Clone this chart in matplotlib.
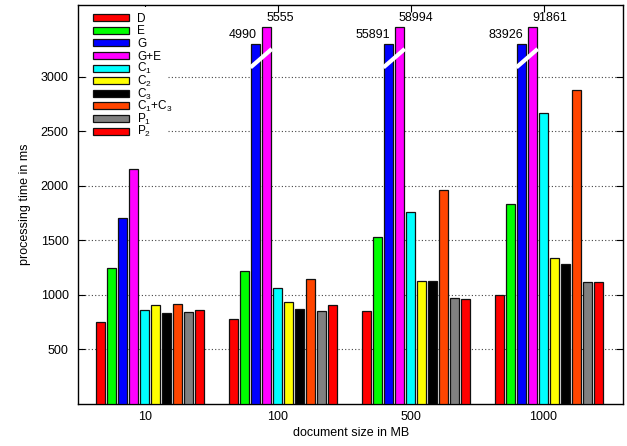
import matplotlib
matplotlib.use('Agg')
import matplotlib.pyplot as plt
from matplotlib.patches import Rectangle
import numpy as np

plt.rcParams['font.family'] = ['Liberation Sans', 'DejaVu Sans']

# document sizes (MB)
groups = ['10', '100', '500', '1000']
series = ['D', 'E', 'G', 'G+E', 'C1', 'C2', 'C3', 'C1+C3', 'P1', 'P2']
labels = ['D', 'E', 'G', 'G+E', r'C$\mathregular{_1}$', r'C$\mathregular{_2}$',
          r'C$\mathregular{_3}$', r'C$\mathregular{_1}$+C$\mathregular{_3}$',
          r'P$\mathregular{_1}$', r'P$\mathregular{_2}$']
colors = ['#ff0000', '#00ff00', '#0000ff', '#ff00ff', '#00ffff',
          '#ffff00', '#000000', '#ff4500', '#808080', '#ff0000']

# processing time in ms, one list per series (values per document size)
D = [750, 778, 851, 995]
E = [1243, 1221, 1533, 1830]
G = [1700, 4990, 55891, 83926]
GE = [2157, 5555, 58994, 91861]
C1 = [860, 1060, 1760, 2665]
C2 = [902, 931, 1124, 1335]
C3 = [836, 867, 1127, 1280]
C1C3 = [912, 1142, 1959, 2878]
P1 = [840, 851, 973, 1120]
P2 = [860, 903, 964, 1120]
values = [D, E, G, GE, C1, C2, C3, C1C3, P1, P2]

# broken bars are cut at these heights
cap_G = 3300
cap_GE = 3455

W, H = 627, 446
fig = plt.figure(figsize=(W / 100, H / 100), dpi=100)
ax = fig.add_axes([0.1249, 0.0946, 0.8692, 0.8935])

pitch = 0.0828
width = 0.068
x = np.arange(len(groups))

for j, (name, vals) in enumerate(zip(series, values)):
    pos = x + (j - 4) * pitch
    h = np.array(vals, dtype=float)
    if name == 'G':
        h = np.minimum(h, cap_G)
    elif name == 'G+E':
        h = np.minimum(h, cap_GE)
    ax.bar(pos, h, width=width, color=colors[j], edgecolor='#111111',
           linewidth=0.9, zorder=3)

# value labels and break marks on the cut bars
for i in range(len(groups)):
    xg = x[i] + (2 - 4) * pitch
    xge = x[i] + (3 - 4) * pitch
    if G[i] > cap_G:
        ax.text(xg + 0.01, cap_G + 25, str(G[i]), ha='right', va='bottom',
                fontsize=9, zorder=5)
    if GE[i] > cap_GE:
        ax.text(xge - 0.005, cap_GE + 25, str(GE[i]), ha='left', va='bottom',
                fontsize=9, zorder=5)
        ax.plot([xg - width / 2 - 0.005, xge + width / 2 + 0.005], [3085, 3255],
                color='white', lw=3, solid_capstyle='butt', zorder=4)

ax.set_xlim(-0.5, 3.6)
ax.set_ylim(0, 3655)
ax.set_xticks(x)
ax.set_xticklabels(groups)
ax.set_yticks([500, 1000, 1500, 2000, 2500, 3000])
ax.tick_params(direction='in', top=True, right=True, length=5, width=0.8,
               labelsize=9)
ax.tick_params(axis='y', pad=7)
ax.tick_params(axis='x', pad=5)
ax.yaxis.grid(True, linestyle=(0, (1, 2)), color='#444444', linewidth=0.8,
              zorder=0)
ax.set_axisbelow(True)
for s in ax.spines.values():
    s.set_linewidth(1.0)

ax.set_xlabel('document size in MB', fontsize=9, labelpad=3)
ax.set_ylabel('processing time in ms', fontsize=9, labelpad=7)

# gnuplot-style key, laid out in pixel positions
def fx(px):
    return px / W

def fy(py):
    return 1 - py / H

fig.patches.append(Rectangle((fx(87), fy(138)), fx(168) - fx(87), fy(7) - fy(138),
                             transform=fig.transFigure, facecolor='white',
                             edgecolor='none', zorder=6))
for k, lab in enumerate(labels):
    yc = 17.7 + 12.6 * k
    fig.patches.append(Rectangle((fx(93), fy(yc + 3.5)), fx(129) - fx(93), 7 / H,
                                 transform=fig.transFigure, facecolor=colors[k],
                                 edgecolor='#111111', linewidth=0.9, zorder=7))
    fig.text(fx(137), fy(yc + 4.2), lab, fontsize=8.5, ha='left', va='baseline',
             zorder=7)

plt.savefig('out.png', dpi=100)
plt.close()
